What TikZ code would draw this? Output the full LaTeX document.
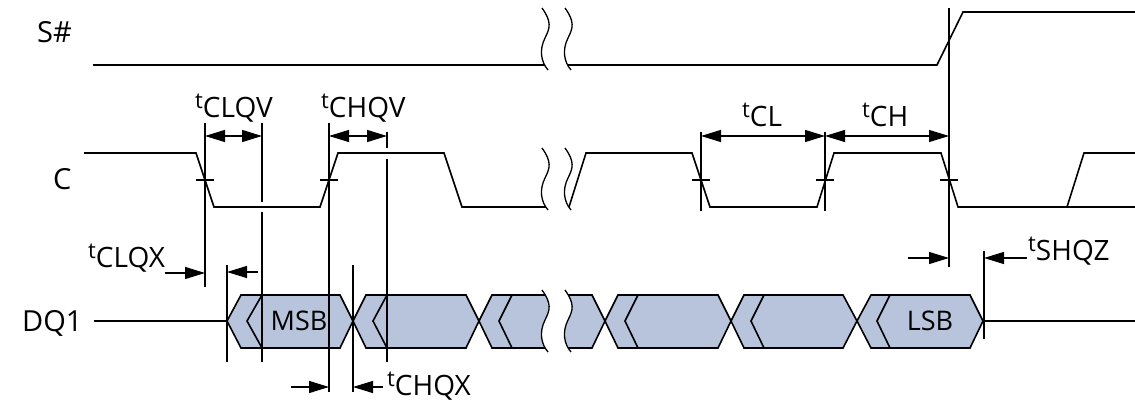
\documentclass[tikz,border=0pt]{standalone}
\usepackage{fontspec}
\setmainfont{Open Sans}
\usetikzlibrary{arrows.meta, positioning, calc}
\definecolor{busblue}{HTML}{B7C4DC}
\newcommand{\tparam}[1]{\raisebox{9pt}{\fontsize{22}{22}\selectfont t}#1}
\newcommand{\squiggle}[2]{(#1,#2) .. controls (#1+10,#2+14) and (#1+8,#2+20) .. (#1+3,#2+30) .. controls (#1-3,#2+42) and (#1-1,#2+54) .. (#1+6,#2+62)}
\newcommand{\squiggleback}[2]{(#1+6,#2+62) .. controls (#1-1,#2+54) and (#1-3,#2+42) .. (#1+3,#2+30) .. controls (#1+8,#2+20) and (#1+10,#2+14) .. (#1,#2)}

\begin{document}
\begin{tikzpicture}[
        x=1pt, y=-1pt,
        wave/.style={line width=1.6pt, line join=miter},
        bus/.style={wave, fill=busblue},
        guide/.style={line width=1.4pt},
        breakline/.style={line width=1.3pt},
        tick/.style={line width=1.3pt},
        span/.style={line width=1.3pt, {Triangle[length=20pt,width=12pt]}-{Triangle[length=20pt,width=12pt]}},
        lead/.style={line width=1.3pt, -{Triangle[length=20pt,width=12pt]}},
        signal/.style={inner sep=0pt, anchor=base west, font=\fontsize{29}{29}\selectfont},
        inbus/.style={inner sep=0pt, font=\fontsize{27}{27}\selectfont},
        timing/.style={inner sep=0pt, anchor=base west, font=\fontsize{28}{29}\selectfont}
    ]
        \useasboundingbox (0,0) rectangle (1135,403);

        % signal names
        \node [signal] (sname) at (37,43) {S\#};
        \node [signal] (cname) at (53,190) {C};
        \node [signal] (dname) at (22,331) {DQ1};

        % S# and C
        \draw [wave] (93,65) -- (937,65) -- (963,12) -- (1135,12);
        \draw [wave] (84,153) -- (196,153) -- (214,207) -- (320,207) -- (338,153) -- (444,153) -- (462,207)
            -- (569,207) -- (586,153) -- (692,153) -- (710,207) -- (817,207) -- (834,153) -- (941,153) -- (958,207)
            -- (1135,207);
        \draw [wave] (1067,207) -- (1084,153) -- (1135,153);

        % DQ1
        \draw [wave] (94,321) -- (227,321);
        \draw [wave] (984,321) -- (1135,321);
        \foreach \xa/\xb/\xc/\xd in {227/241/340/353, 353/366/466/479, 479/492/592/605, 605/618/718/731, 731/744/843/857, 857/871/970/983}
            \draw [bus] (\xa,321) -- (\xb,295) -- (\xc,295) -- (\xd,321) -- (\xc,348) -- (\xb,348) -- cycle;
        \foreach \xa/\xb in {247/262, 373/387, 499/512, 625/638, 751/764, 877/890}
            \draw [wave] (\xb,295) -- (\xa,321) -- (\xb,348);
        \node [inbus] (msb) at (299,321) {MSB};
        \node [inbus] (lsb) at (930,321) {LSB};

        % breaks
        \foreach \y in {8,148,290} {
            \fill [white] \squiggle{542}{\y} -- \squiggleback{565}{\y} -- cycle;
            \draw [breakline] \squiggle{542}{\y};
            \draw [breakline] \squiggle{565}{\y};
        }

        % crossing marks on C
        \foreach \x in {205,329,701,825,949}
            \draw [tick] (\x-9,180) -- (\x+9,180);

        % guides
        \draw [guide] (205,123) -- (205,287);
        \draw [guide] (262,123) -- (262,202) (262,212) -- (262,362);
        \draw [guide] (329,123) -- (329,392);
        \draw [guide] (387,132) -- (387,148) (387,159) -- (387,362);
        \draw [guide] (227,265) -- (227,362);
        \draw [guide] (353,265) -- (353,392);
        \draw [guide] (701,132) -- (701,211);
        \draw [guide] (825,132) -- (825,211);
        \draw [guide] (949,8) -- (949,267);
        \draw [guide] (984,251) -- (984,339);

        % named ends of the timing arrows
        \coordinate (clqva) at (205,136);
        \coordinate (clqvb) at (262,136);
        \coordinate (chqva) at (329,136);
        \coordinate (chqvb) at (387,136);
        \coordinate (cla) at (701,136);
        \coordinate (clb) at (825,136);
        \coordinate (chb) at (949,136);
        \coordinate (clqxa) at (165,273);
        \coordinate (clqxb) at (205,273);
        \coordinate (clqxc) at (258,272);
        \coordinate (clqxd) at (227,272);
        \coordinate (chqxa) at (291,387);
        \coordinate (chqxb) at (329,387);
        \coordinate (chqxc) at (383,387);
        \coordinate (chqxd) at (353,387);
        \coordinate (shqza) at (908,258);
        \coordinate (shqzb) at (949,258);
        \coordinate (shqzc) at (1027,258);
        \coordinate (shqzd) at (984,258);

        \draw [span] (clqva) -- (clqvb);
        \draw [span] (chqva) -- (chqvb);
        \draw [span] (cla) -- (clb);
        \draw [span] (clb) -- (chb);
        \draw [lead] (clqxa) -- (clqxb);
        \draw [lead] (clqxc) -- (clqxd);
        \draw [lead] (chqxa) -- (chqxb);
        \draw [lead] (chqxc) -- (chqxd);
        \draw [lead] (shqza) -- (shqzb);
        \draw [lead] (shqzc) -- (shqzd);

        % timing labels
        \node [timing] (tclqv) at (195,118) {\tparam{CLQV}};
        \node [timing] (tchqv) at (321,118) {\tparam{CHQV}};
        \node [timing] (tcl) at (742,127) {\tparam{CL}};
        \node [timing] (tch) at (862,127) {\tparam{CH}};
        \node [timing] (tclqx) at (88,268) {\tparam{CLQX}};
        \node [timing] (tchqx) at (387,395) {\tparam{CHQX}};
        \node [timing] (tshqz) at (1028,261) {\tparam{SHQZ}};
    \end{tikzpicture}
\end{document}
